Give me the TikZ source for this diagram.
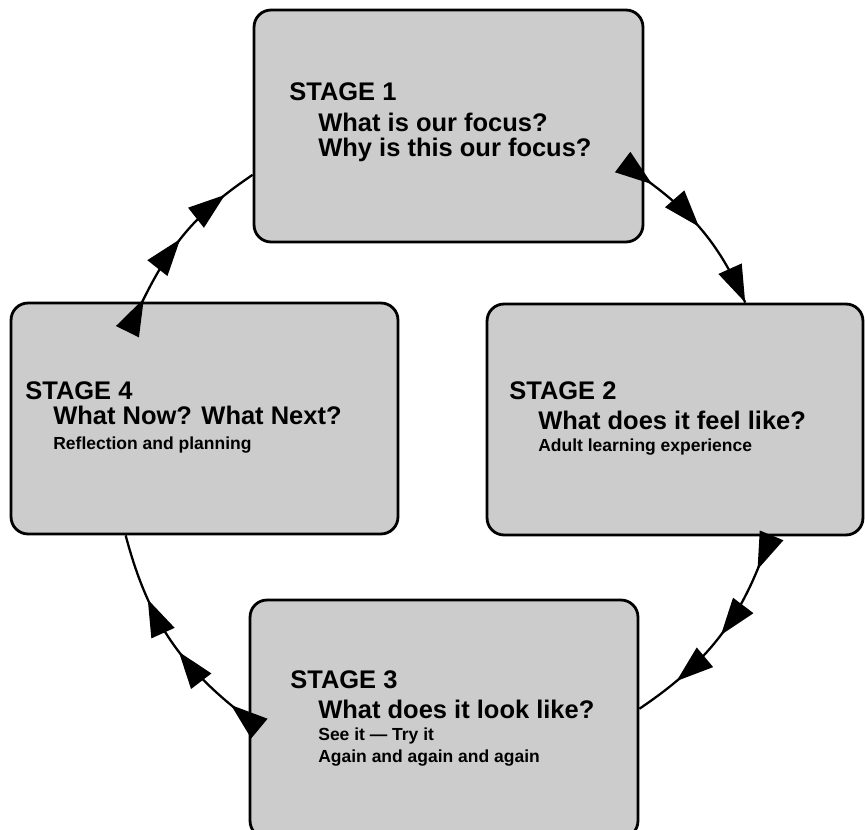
\documentclass[tikz,border=0pt]{standalone}
\usepackage{fontspec}
\setmainfont{Liberation Sans}
\usepackage{xcolor}
\usepackage{tikz}
\usetikzlibrary{arrows.meta,decorations.markings}

\definecolor{boxgray}{RGB}{204,204,204}
\tikzset{
    stagebox/.style={draw, line width=1.6pt, fill=boxgray, rounded corners=0.34cm, inner sep=0pt},
    bigtext/.style={anchor=base west, inner sep=0pt, font=\bfseries\fontsize{14.5}{17}\selectfont},
    smalltext/.style={anchor=base west, inner sep=0pt, font=\bfseries\fontsize{9.95}{12}\selectfont},
    bigtip/.tip={Triangle[length=0.74cm, width=0.5cm]},
    cyclearrow/.style n args={3}{line width=1.3pt, postaction={decorate},
        decoration={markings,
            mark=at position #1 with {\arrow{bigtip}},
            mark=at position #2 with {\arrow{bigtip}},
            mark=at position #3 with {\arrow{bigtip}}}}
}

\begin{document}
\begin{tikzpicture}[x=0.02cm, y=0.02cm]
            \useasboundingbox (0,0) rectangle (865,-830);

            \foreach \n/\x/\y/\w/\h in {1/448.5/-126/7.78/4.64, 2/675/-419.5/7.52/4.62,
                                        3/444/-719/7.76/4.76, 4/204.5/-418.5/7.74/4.62} {
                    \node[stagebox, minimum width=\w cm, minimum height=\h cm] (s\n) at (\x,\y) {};
                }

            \node[bigtext] (h1) at (289,-101) {STAGE 1};
            \node[bigtext] (q1) at (318,-132) {What is our focus?};
            \node[bigtext] (r1) at (318,-157) {Why is this our focus?};

            \node[bigtext] (h2) at (509,-400) {STAGE 2};
            \node[bigtext] (q2) at (538,-430) {What does it feel like?};
            \node[smalltext] (r2) at (538,-452) {Adult learning experience};

            \node[bigtext] (h3) at (290,-688) {STAGE 3};
            \node[bigtext] (q3) at (318,-718) {What does it look like?};
            \node[smalltext] (r3) at (318,-740) {See it --- Try it};
            \node[smalltext] (a3) at (318,-762) {Again and again and again};

            \node[bigtext] (h4) at (25,-400) {STAGE 4};
            \node[bigtext] (q4) at (53,-425) {What Now? What Next?};
            \node[smalltext] (r4) at (53,-450) {Reflection and planning};

            % the cycle, clockwise
            \draw[cyclearrow={0.06}{0.45}{0.999}] (s1.-15) to[bend left=15] (s2.59);
            \draw[cyclearrow={0.16}{0.5}{0.79}] (s2.-51) to[bend left=19] (s3.3);
            \draw[cyclearrow={0.1}{0.43}{0.7}] (s3.180) to[bend left=19] (s4.236);
            \draw[cyclearrow={0.02}{0.43}{0.8}] (s4.118) to[bend left=15] (s1.194);

        \end{tikzpicture}
\end{document}
